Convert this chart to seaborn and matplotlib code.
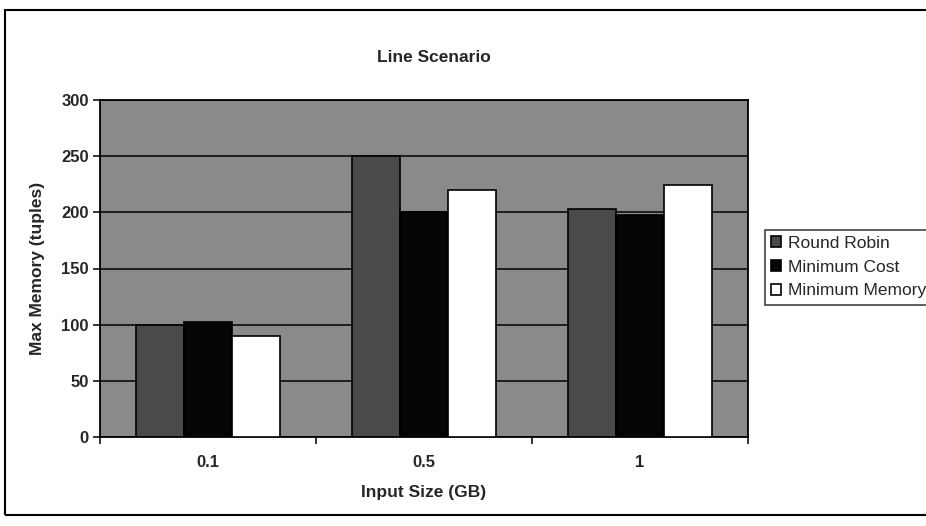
import numpy as np
import matplotlib
matplotlib.use("Agg")
import matplotlib.pyplot as plt
import pandas as pd
import seaborn as sns
from matplotlib.patches import Rectangle

# datos
sizes = ['0.1', '0.5', '1']
round_robin = [100, 250, 203]
minimum_cost = [102, 200, 198]
minimum_memory = [90, 220, 224]
series = ['Round Robin', 'Minimum Cost', 'Minimum Memory']

data = pd.DataFrame({
    'size': sizes * 3,
    'value': round_robin + minimum_cost + minimum_memory,
    'series': [s for s in series for _ in sizes],
})

sns.set_style('white')
plt.rcParams['font.family'] = ['Liberation Sans', 'DejaVu Sans']

fig = plt.figure(figsize=(9.26, 5.26), dpi=100)
ax = fig.add_axes([100/926, 1 - 437/526, 648/926, 337/526])
ax.set_facecolor('#8a8a8a')

sns.barplot(data=data, x='size', y='value', hue='series', order=sizes,
            hue_order=series, palette=['#4a4a4a', '#050505', '#ffffff'],
            width=3/4.5, edgecolor='black', linewidth=1.2, ax=ax, zorder=3)

ax.set_ylim(0, 300)
ax.set_xlim(-0.5, 2.5)
ax.set_yticks(range(0, 301, 50))
ax.yaxis.grid(True, color='black', linewidth=1.1, zorder=1)
ax.set_axisbelow(True)
for sp in ax.spines.values():
    sp.set_color('black')
    sp.set_linewidth(1.3)

ax.tick_params(axis='y', direction='out', length=5, width=1.1, color='black',
               labelsize=12, pad=3, left=True)
ax.tick_params(axis='x', which='major', length=0, labelsize=12, pad=13)
ax.set_xticks([-0.5, 0.5, 1.5, 2.5], minor=True)
ax.tick_params(axis='x', which='minor', direction='out', length=5, width=1.1,
               color='black', bottom=True)
for lab in ax.get_xticklabels() + ax.get_yticklabels():
    lab.set_fontweight('bold')

ax.set_xlabel('Input Size (GB)', fontsize=12.5, fontweight='bold', labelpad=11)
ax.set_ylabel('Max Memory (tuples)', fontsize=12.5, fontweight='bold', labelpad=12)

fig.text(434/926, 1 - 58/526, 'Line Scenario', ha='center', va='center',
         fontsize=12.5, fontweight='bold')

leg = ax.legend(loc='upper left', bbox_to_anchor=(765/926, 1 - 230/526),
                bbox_transform=fig.transFigure, frameon=True, fancybox=False,
                fontsize=12.5, handlelength=0.6, handleheight=0.6,
                handletextpad=0.35, labelspacing=0.5, borderpad=0.35,
                borderaxespad=0)
leg.get_frame().set_edgecolor('black')
leg.get_frame().set_linewidth(1.1)

# borde del area del grafico
fig.patches.append(Rectangle((5/926, 1 - 515/526), 1.0, 505/526,
                             transform=fig.transFigure, fill=False,
                             edgecolor='black', linewidth=1.5))

fig.savefig('out.png', dpi=100)
